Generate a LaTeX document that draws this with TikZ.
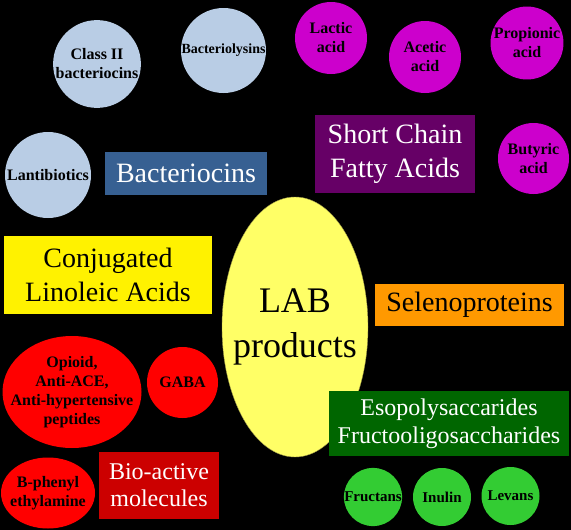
\documentclass[tikz,border=0pt]{standalone}
\usepackage{fontspec}
\setmainfont{Liberation Serif}
\usetikzlibrary{shapes.geometric}
\definecolor{paleblue}{HTML}{B9CDE5}
\definecolor{bactbox}{HTML}{376092}
\definecolor{acidpink}{HTML}{CC00CC}
\definecolor{acidbox}{HTML}{660066}
\definecolor{labyellow}{HTML}{FFFF66}
\definecolor{selorange}{HTML}{FF9900}
\definecolor{biobox}{HTML}{CC0000}
\definecolor{sugarbox}{HTML}{006600}
\definecolor{sugargreen}{HTML}{33CC33}
\tikzset{blob/.style={circle,inner sep=0pt,align=center,font=\fontsize{16}{19}\selectfont\bfseries},
  oval/.style={ellipse,inner sep=0pt},
  ovaltext/.style={align=center,inner sep=0pt,font=\fontsize{16}{19}\selectfont\bfseries},
  tag/.style={rectangle,inner sep=0pt,align=center,font=\fontsize{28}{34}\selectfont}}

\begin{document}
\begin{tikzpicture}[x=1pt,y=-1pt]
\path[use as bounding box,fill=black] (0,0) rectangle (571,530);
% bacteriocins
\node[blob,fill=paleblue,minimum size=86pt] (cls2) at (97,64){Class II\\bacteriocins};
\node[blob,fill=paleblue,minimum size=85pt,font=\fontsize{14}{17}\selectfont\bfseries] (lysin) at (223.5,50.5){Bacteriolysins};
\node[blob,fill=paleblue,minimum size=86pt] (lanti) at (48,175){Lantibiotics};
\node[tag,fill=bactbox,text=white,minimum width=162pt,minimum height=43pt] (bact) at (186,173.5){Bacteriocins};
% short chain fatty acids
\node[blob,fill=acidpink,minimum size=72pt] (lactic) at (331,38){Lactic\\acid};
\node[blob,fill=acidpink,minimum size=72pt] (acetic) at (425,57){Acetic\\acid};
\node[blob,fill=acidpink,minimum size=72pt] (propi) at (527,43){Propionic\\acid};
\node[blob,fill=acidpink,minimum size=71pt] (butyr) at (533.5,158.5){Butyric\\acid};
\node[tag,fill=acidbox,text=white,minimum width=160pt,minimum height=78pt] (scfa) at (395,154){Short Chain\\Fatty Acids};
% centre
\node[oval,fill=labyellow,draw=yellow!55!black,thin,minimum width=146pt,minimum height=260pt] (lab) at (295,327){};
\node[align=center,inner sep=0pt,font=\fontsize{36}{45}\selectfont] (labtext) at (lab.center){LAB\\products};
\node[tag,fill=yellow,minimum width=208pt,minimum height=78pt] (cla) at (108,275){Conjugated\\Linoleic Acids};
\node[tag,fill=selorange,minimum width=189pt,minimum height=42pt] (seleno) at (469.5,305){Selenoproteins};
% bio-active molecules
\node[oval,fill=red,minimum width=139pt,minimum height=112pt] (opioid) at (72,392){};
\node[ovaltext] (opioidtext) at (opioid.center){Opioid,\\Anti-ACE,\\Anti-hypertensive\\peptides};
\node[blob,fill=red,minimum size=71pt] (gaba) at (182.5,382.5){GABA};
\node[oval,fill=red,minimum width=94pt,minimum height=71pt] (phenyl) at (48,493){};
\node[ovaltext] (phenyltext) at (phenyl.center){B-phenyl\\ethylamine};
\node[tag,fill=biobox,text=white,minimum width=120pt,minimum height=67pt,font=\fontsize{24}{27}\selectfont] (bio) at (159,485.5){Bio-active\\molecules};
% polysaccharides
\node[tag,fill=sugarbox,text=white,minimum width=240pt,minimum height=65pt,font=\fontsize{24}{28}\selectfont] (eso) at (449,423.5){Esopolysaccarides\\Fructooligosaccharides};
\node[blob,fill=sugargreen,minimum size=58pt,font=\fontsize{15}{18}\selectfont\bfseries] (fruct) at (373,497){Fructans};
\node[blob,fill=sugargreen,minimum size=58pt,font=\fontsize{15}{18}\selectfont\bfseries] (inulin) at (442,497){Inulin};
\node[blob,fill=sugargreen,minimum size=58pt,font=\fontsize{15}{18}\selectfont\bfseries] (levan) at (510.5,496){Levans};
\end{tikzpicture}
\end{document}
